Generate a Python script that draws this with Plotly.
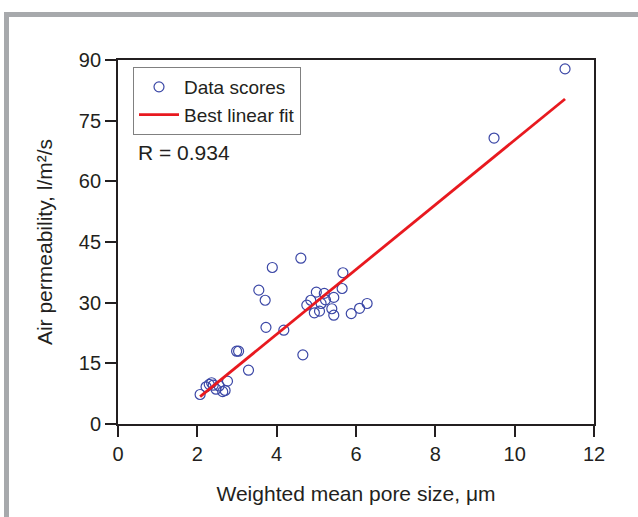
import plotly.graph_objects as go

# Data
pore_size = [2.07, 2.22, 2.30, 2.36, 2.40, 2.47, 2.55, 2.64, 2.70, 2.76,
             2.99, 3.04, 3.29, 3.55, 3.71, 3.73, 3.89, 4.18, 4.61, 4.66,
             4.76, 4.86, 4.95, 5.00, 5.08, 5.12, 5.20, 5.23, 5.39, 5.44,
             5.44, 5.65, 5.67, 5.88, 6.09, 6.28, 9.48, 11.27]
permeability = [7.3, 9.2, 9.8, 10.2, 9.6, 8.6, 9.4, 8.0, 8.3, 10.6,
                18.0, 18.0, 13.3, 33.1, 30.6, 23.9, 38.7, 23.2, 41.0, 17.1,
                29.4, 30.6, 27.5, 32.6, 27.9, 29.8, 32.3, 30.7, 28.5, 26.9,
                31.3, 33.5, 37.4, 27.3, 28.6, 29.8, 70.7, 87.8]

fit_slope = 8.0
fit_intercept = -9.8
fit_x = [min(pore_size), max(pore_size)]
fit_y = [fit_slope * x + fit_intercept for x in fit_x]

x_ticks = [0, 2, 4, 6, 8, 10, 12]
y_ticks = [0, 15, 30, 45, 60, 75, 90]

W, H = 638, 517
L, R, T, B = 118, 44, 60, 93
pw, ph = W - L - R, H - T - B

FONT = "Arial, Liberation Sans, sans-serif"
INK = "#231f20"


def px(x):
    return (x - L) / pw


def py(y):
    return (H - B - y) / ph


fig = go.Figure()
fig.add_trace(go.Scatter(
    x=pore_size, y=permeability, mode="markers", name="Data scores",
    marker=dict(symbol="circle-open", size=10, color="#3b47a6",
                line=dict(width=1.2, color="#3b47a6")),
))
fig.add_trace(go.Scatter(
    x=fit_x, y=fit_y, mode="lines", name="Best linear fit",
    line=dict(color="#e8191f", width=2.8),
))

axis_common = dict(
    showgrid=False, zeroline=False, showline=True, linecolor=INK,
    linewidth=1.8, mirror=True, ticks="outside", tickcolor=INK,
    tickwidth=1.8, ticklen=11,
    tickfont=dict(family=FONT, size=20, color=INK),
)
fig.update_xaxes(range=[0, 12], tickvals=x_ticks,
                 title=dict(text="Weighted mean pore size, μm", standoff=22,
                            font=dict(family=FONT, size=21, color=INK)),
                 **axis_common)
fig.update_yaxes(range=[0, 90], tickvals=y_ticks,
                 title=dict(text="Air permeability, l/m²/s", standoff=20,
                            font=dict(family=FONT, size=21, color=INK)),
                 **axis_common)

fig.add_annotation(x=px(136), y=py(152), xref="paper", yref="paper",
                   text="R = 0.934", showarrow=False, xanchor="left", yanchor="middle",
                   font=dict(family=FONT, size=21, color=INK))

# gray frame of the panel
fig.add_shape(type="line", xref="paper", yref="paper",
              x0=px(6.5), x1=px(6.5), y0=py(12), y1=py(H + 10),
              line=dict(color="#a7a9ac", width=5))
fig.add_shape(type="line", xref="paper", yref="paper",
              x0=px(4), x1=px(W + 10), y0=py(14.5), y1=py(14.5),
              line=dict(color="#a7a9ac", width=5))

fig.update_layout(
    width=W, height=H, margin=dict(l=L, r=R, t=T, b=B),
    plot_bgcolor="white", paper_bgcolor="white",
    font=dict(family=FONT, size=20, color=INK),
    legend=dict(x=px(133), y=py(67), xanchor="left", yanchor="top",
                bordercolor="#808080", borderwidth=1, bgcolor="white",
                font=dict(family=FONT, size=19, color=INK),
                tracegroupgap=0, itemwidth=40),
    showlegend=True,
)

fig.write_html("out.html", config={"displayModeBar": False},
               post_script="document.body.style.margin='0';")
